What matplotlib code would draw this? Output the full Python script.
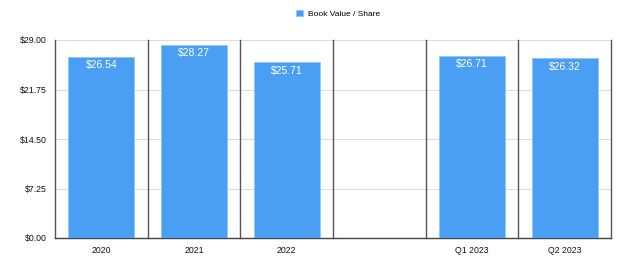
import matplotlib
matplotlib.use("Agg")
import matplotlib.pyplot as plt
import numpy as np

categories = ["2020", "2021", "2022", "", "Q1 2023", "Q2 2023"]
values = [26.54, 28.27, 25.71, np.nan, 26.71, 26.32]
yticks = [0.0, 7.25, 14.50, 21.75, 29.00]
series_name = "Book Value / Share"
color = "#4A9FF5"

plt.rcParams['font.family'] = ['Liberation Sans', 'DejaVu Sans']

fig = plt.figure(figsize=(6.4, 2.75), dpi=100)
ax = fig.add_axes([55/640, 1-238/275, (611-55)/640, (238-40)/275])

x = np.arange(len(categories))
bars = ax.bar(x, values, width=0.71, color=color, label=series_name, zorder=3,
              edgecolor="#8cc4fa", linewidth=0.5)

for xi, v in zip(x, values):
    if not np.isnan(v):
        ax.annotate(f"${v:.2f}", (xi, v), xytext=(0, -2.5), textcoords="offset points",
                    ha="center", va="top", color="white", fontsize=7.5, zorder=4)

ax.set_xlim(-0.5, len(categories) - 0.5)
ax.set_ylim(0, 29)
ax.set_yticks(yticks)
ax.set_yticklabels([f"${t:.2f}" for t in yticks], fontsize=6.3, color="#111111")
ax.set_xticks(x)
ax.set_xticklabels(categories, fontsize=6.3, color="#111111")
ax.tick_params(length=0, pad=6)

ax.yaxis.grid(True, color="#dddddd", linewidth=0.8, zorder=0)
for b in np.arange(len(categories) + 1) - 0.5:
    ax.axvline(b, color="#555555", linewidth=1.0, zorder=2, clip_on=False)

for s in ["top", "right", "left"]:
    ax.spines[s].set_visible(False)
ax.spines["bottom"].set_color("#444444")
ax.spines["bottom"].set_linewidth(1.0)

fig.legend(handles=[bars], labels=[series_name], loc="center", bbox_to_anchor=(338/640, 1-14/275),
           frameon=False, fontsize=6.0, handlelength=0.8, handleheight=0.8, handletextpad=0.6)

fig.savefig("out.png", dpi=100)
